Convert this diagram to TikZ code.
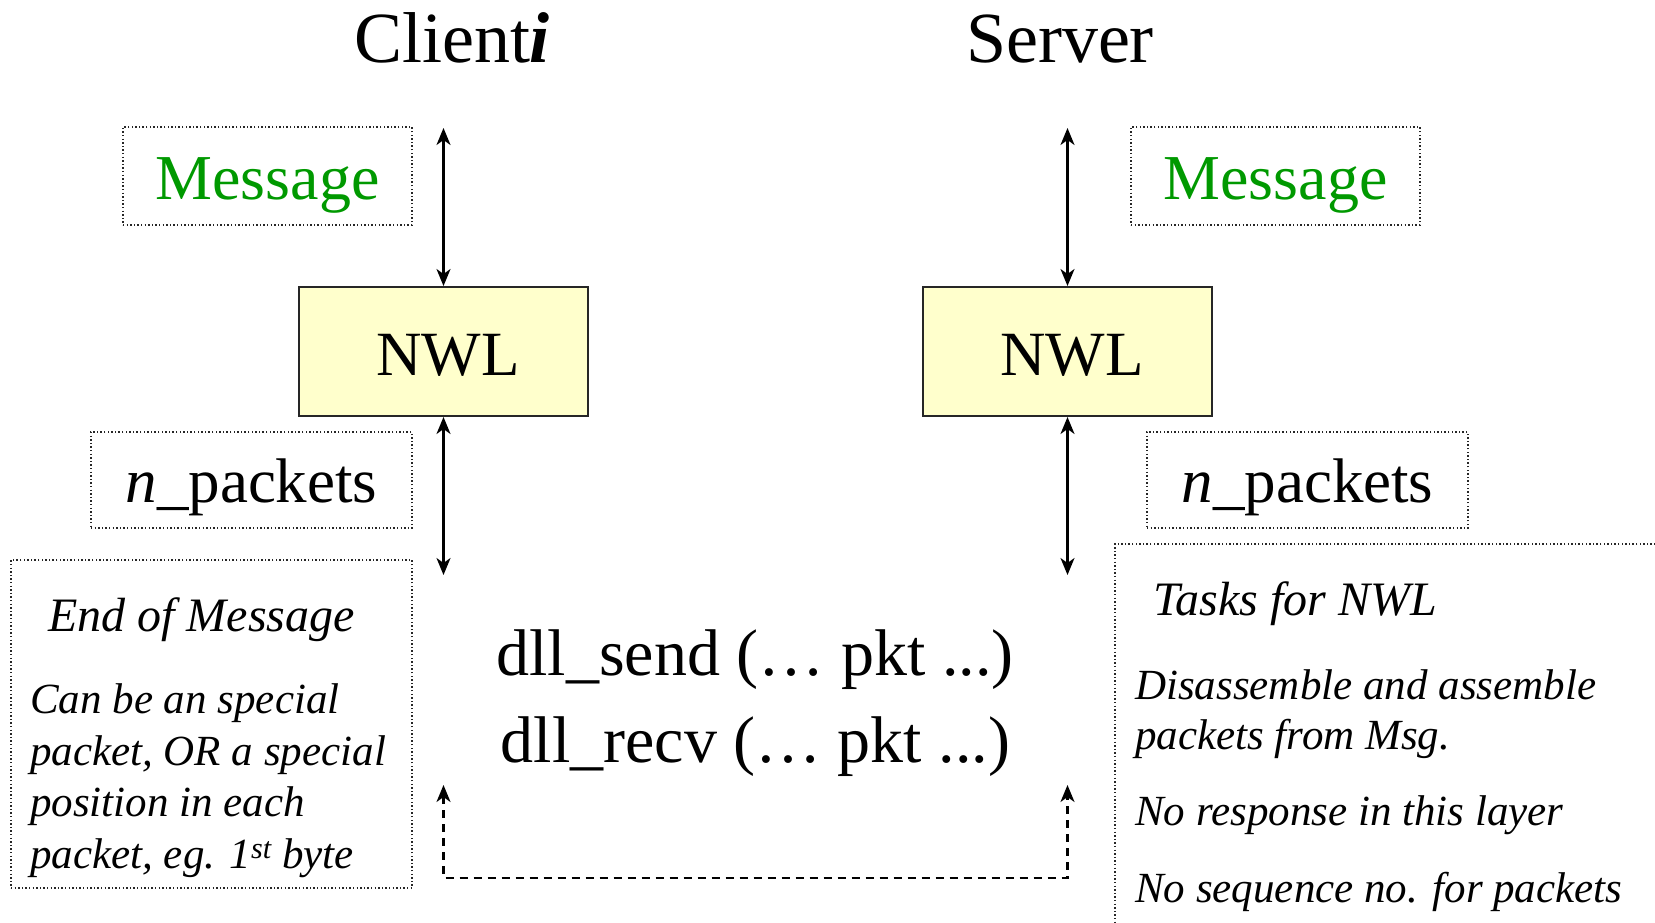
\documentclass[tikz,border=0pt]{standalone}
\usepackage{fontspec}
\setmainfont{Liberation Serif}
\usetikzlibrary{arrows.meta}
\definecolor{nwlfill}{RGB}{255,255,204}
\definecolor{msggreen}{RGB}{0,153,0}
\tikzset{
  dotbox/.style={draw=black!85, line width=1.4pt, dash pattern=on 1.4pt off 2.2pt, inner sep=0pt},
  layer/.style={draw=black!85, line width=2pt, fill=nwlfill, minimum width=289pt, minimum height=129pt,
    font=\fontsize{63}{70}\selectfont, text height=47pt, text depth=0pt, inner sep=0pt},
  msgbox/.style={dotbox, minimum width=289pt, minimum height=98pt, text=msggreen,
    font=\fontsize{64}{70}\selectfont, text height=46pt, text depth=0pt},
  pktbox/.style={dotbox, minimum width=321pt, minimum height=96pt,
    font=\fontsize{63}{70}\selectfont, text height=44pt, text depth=0pt},
  tip/.tip={Stealth[length=17pt,width=14pt,inset=5pt]},
  link/.style={line width=2.2pt, tip-tip},
  dlink/.style={line width=2.2pt, tip-tip, dash pattern=on 8pt off 6pt},
  title/.style={anchor=base, font=\fontsize{72}{80}\selectfont, inner sep=0pt},
  calltext/.style={anchor=base, font=\fontsize{66}{70}\selectfont, inner sep=0pt},
  notetitle/.style={anchor=base west, font=\fontsize{48}{52}\selectfont\itshape, inner sep=0pt},
  notebody/.style={anchor=base west, align=left, font=\fontsize{43}{51.5}\selectfont\itshape, inner sep=0pt},
}
\begin{document}
\begin{tikzpicture}[x=1pt, y=-1pt]
\useasboundingbox (0,0) rectangle (1655,923);
\clip (0,0) rectangle (1655,923);
% titles
\node[title] (client) at (452,63) {Client\textbf{\textit{i}}};
\node[title] (server) at (1060,63) {Server};
% message boxes
\node[msgbox] (msgL) at (267.5,176) {Message};
\node[msgbox] (msgR) at (1275.5,176) {Message};
% NWL layers
\node[layer] (nwlL) at (443.5,351.5) {\hspace*{9pt}NWL};
\node[layer] (nwlR) at (1067.5,351.5) {\hspace*{9pt}NWL};
% packets boxes
\node[pktbox] (pkL) at (251.5,480) {\textit{n}\_packets};
\node[pktbox] (pkR) at (1307.5,480) {\textit{n}\_packets};
% free ends
\coordinate (topL) at (443.5,128);
\coordinate (topR) at (1067.5,128);
\coordinate (botL) at (443.5,575);
\coordinate (botR) at (1067.5,575);
\coordinate (dL) at (443.5,785);
\coordinate (dR) at (1067.5,785);
% arrows
\draw[link] (topL) -- (nwlL.north);
\draw[link] (topR) -- (nwlR.north);
\draw[link] (nwlL.south) -- (botL);
\draw[link] (nwlR.south) -- (botR);
\draw[dlink] (dL) -- ++(0,93) -| (dR);
% dll calls
\node[calltext] (dsend) at (755,675) {dll\_send (… pkt ...)};
\node[calltext] (drecv) at (755.5,762) {dll\_recv (… pkt ...)};
% end of message note
\node[dotbox, minimum width=401pt, minimum height=328pt] (eom) at (211.5,724) {};
\node[notetitle] (eomT) at (48,631) {End of Message};
\node[notebody] (eomB) at (30,868) {Can be an special\\packet, OR a special\\position in each\\packet, eg. 1\textsuperscript{st} byte};
% tasks note
\node[dotbox, minimum width=600pt, minimum height=460pt] (tasks) at (1415,774) {};
\node[notetitle] (tasksT) at (1153,615) {Tasks for NWL};
\node[notebody, font=\fontsize{43}{50}\selectfont\itshape] (task1) at (1135,749) {Disassemble and assemble\\packets from Msg.};
\node[notebody] (task2) at (1135,825) {No response in this layer};
\node[notebody] (task3) at (1135,902) {No sequence no. for packets};
\end{tikzpicture}
\end{document}
